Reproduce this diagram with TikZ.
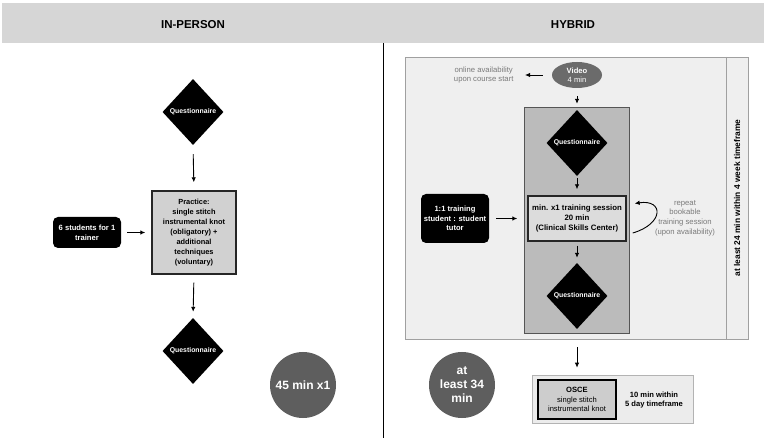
\documentclass[tikz,border=0pt]{standalone}
\usepackage{fontspec}
\setmainfont{Liberation Sans}
\usetikzlibrary{shapes.geometric,arrows.meta}
\definecolor{hdr}{HTML}{D6D6D6}
\definecolor{outerfill}{HTML}{EFEFEF}
\definecolor{outerline}{HTML}{A0A0A0}
\definecolor{innerfill}{HTML}{BBBBBB}
\definecolor{innerline}{HTML}{555555}
\definecolor{boxfill}{HTML}{DCDCDC}
\definecolor{darkcirc}{HTML}{5E5E5E}
\definecolor{vidfill}{HTML}{6B6B6B}
\definecolor{labgray}{HTML}{7A7A7A}
\definecolor{oscefill}{HTML}{ECECEC}
\definecolor{osceinner}{HTML}{CDCDCD}
\tikzset{
  x=1pt,y=-1pt,
  arr/.style={draw=black,line width=0.9pt,-{Latex[length=5pt,width=4.5pt]}},
  qdiamond/.style={diamond,fill=black,draw=none,minimum width=61pt,minimum height=66pt,inner sep=0pt},
  qtext/.style={text=white,font=\fontsize{6.9}{8}\selectfont\bfseries},
  blackbox/.style={fill=black,rounded corners=5pt,text=white,align=center,font=\fontsize{7.6}{9.6}\selectfont\bfseries,inner sep=0pt},
  graybox/.style={fill=boxfill,draw=black!85,line width=1.4pt,align=center,font=\fontsize{7.8}{10}\selectfont\bfseries,inner sep=0pt},
  timecirc/.style={circle,fill=darkcirc,text=white,minimum size=66pt,inner sep=0pt,align=center},
  glabel/.style={text=labgray,align=center,font=\fontsize{7.7}{9.6}\selectfont},
}
\begin{document}
\begin{tikzpicture}
\useasboundingbox (0,0) rectangle (766,438);
\fill[white] (0,0) rectangle (766,438);
% header
\fill[hdr] (2,3) rectangle (764,43);
\node[font=\fontsize{11.5}{13}\selectfont\bfseries] (h1) at (193,25) {IN-PERSON};
\node[font=\fontsize{11.5}{13}\selectfont\bfseries] (h2) at (573,25) {HYBRID};
\draw[black,line width=0.9pt] (383,43) -- (383,438);

% ---------- IN-PERSON ----------
\node[qdiamond] (q1) at (193,112) {};
\node[qtext] at (q1) {Questionnaire};
\node[graybox,fill=boxfill!95!black,minimum width=84pt,minimum height=83pt,font=\fontsize{7.4}{10}\selectfont\bfseries] (prac) at (194,232.5)
  {Practice:\\single stitch\\instrumental knot\\(obligatory) +\\additional\\techniques\\(voluntary)};
\node[blackbox,minimum width=68pt,minimum height=31pt] (stud) at (87,232.5) {6 students for 1\\trainer};
\node[qdiamond] (q2) at (193,351) {};
\node[qtext] at (q2) {Questionnaire};
\node[timecirc,font=\fontsize{12}{14}\selectfont\bfseries] (c1) at (303,385) {45 min x1};
\draw[arr,shorten <=9pt,shorten >=8pt] (q1.south) -- (prac.north);
\draw[arr,shorten <=6pt,shorten >=6pt] (stud.east) -- (prac.west);
\draw[arr,shorten <=8pt,shorten >=6pt] (prac.south) -- (q2.north);

% ---------- HYBRID ----------
\node[draw=outerline,fill=outerfill,line width=0.6pt,minimum width=343pt,minimum height=282pt,inner sep=0pt] (hyb) at (576.5,198) {};
\draw[outerline,line width=0.6pt] (726,57) -- (726,339);
\node[rotate=90,font=\fontsize{8.4}{10}\selectfont\bfseries] (tf) at (737,198) {at least 24 min within 4 week timeframe};
\node[draw=innerline,fill=innerfill,line width=0.7pt,minimum width=105pt,minimum height=226pt,inner sep=0pt] (inner) at (576.5,220) {};
\node[ellipse,fill=vidfill,minimum width=50pt,minimum height=26pt,inner sep=0pt,text=white,align=center,font=\fontsize{7.6}{9}\selectfont] (vid) at (577,75) {\textbf{Video}\\4 min};
\node[glabel,anchor=east] (online) at (517,75) {online availability\\upon course start};
\node[qdiamond] (q3) at (577,143) {};
\node[qtext] at (q3) {Questionnaire};
\node[graybox,minimum width=98pt,minimum height=45pt] (train) at (577,218.5) {min. x1 training session\\20 min\\(Clinical Skills Center)};
\node[blackbox,minimum width=68pt,minimum height=49pt] (tut) at (455,218.5) {1:1 training\\student : student\\tutor};
\node[qdiamond] (q4) at (577,296) {};
\node[qtext] at (q4) {Questionnaire};
\node[glabel] (rep) at (685,218) {repeat\\bookable\\training session\\(upon availability)};
\draw[arr,shorten <=8pt,shorten >=6pt] (vid.south) -- (q3.north);
\draw[arr,shorten <=9pt,shorten >=8pt] (vid.west) -- (online.east);
\draw[arr,shorten <=2pt,shorten >=6pt] (q3.south) -- (train.north);
\draw[arr,shorten <=7pt,shorten >=10pt] (tut.east) -- (train.west);
\draw[arr,shorten <=4pt,shorten >=5pt] (train.south) -- (q4.north);
\draw[arr] ([shift={(6,14.5)}]train.east) .. controls (664,224) and (664,199) .. ([shift={(8,-15)}]train.east);

% OSCE
\node[draw=outerline!80,fill=oscefill,line width=0.6pt,minimum width=161pt,minimum height=48pt,inner sep=0pt] (osce) at (612.5,399) {};
\node[draw=black,fill=osceinner,line width=1.4pt,minimum width=78pt,minimum height=39pt,inner sep=0pt,align=center,font=\fontsize{7.6}{9.6}\selectfont] (oscein) at (577,399.5) {\textbf{OSCE}\\single stitch\\instrumental knot};
\node[align=center,font=\fontsize{7.6}{9.6}\selectfont\bfseries] (ten) at (654,400) {10 min within\\5 day timeframe};
\draw[arr,shorten <=8pt,shorten >=7pt] (hyb.south -| oscein) -- (osce.north -| oscein);
\node[timecirc,font=\fontsize{12}{14}\selectfont\bfseries] (c2) at (462,385) {at\\least 34\\min};
\end{tikzpicture}
\end{document}
